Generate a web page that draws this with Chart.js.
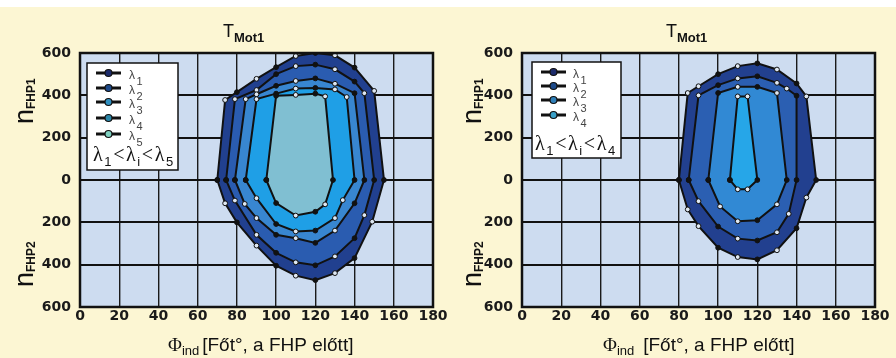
<!DOCTYPE html>
<html>
<head>
<meta charset="utf-8">
<title>T_Mot1</title>
<script src="https://cdn.jsdelivr.net/npm/chart.js@4.4.1/dist/chart.umd.min.js"></script>
<style>
    html, body { margin: 0; padding: 0; background: #fcf6d3; }
    #wrap { position: relative; width: 896px; height: 358px; background: #fcf6d3; overflow: hidden; }
    #topStrip { position: absolute; left: 0; top: 0; width: 896px; height: 7px; background: #ffffff; }
    canvas { position: absolute; top: 0; }
    #leftChart { left: 0; }
    #rightChart { left: 448px; }
</style>
</head>
<body>
<div id="wrap">
    <div id="topStrip"></div>
    <canvas id="leftChart" width="448" height="358"></canvas>
    <canvas id="rightChart" width="448" height="358"></canvas>
</div>
<script>
// ====================================
// T_Mot1 - working areas per lambda
// ====================================

// ---- Axis ticks ----
const phiTicks = [0, 20, 40, 60, 80, 100, 120, 140, 160, 180];
const nTicks = [-600, -400, -200, 0, 200, 400, 600];   // below 0 = n_FHP2

// ---- Left panel contours [phi, n] ----
const leftLambda1 = [[70, 0], [74, 378], [80, 415], [90, 478], [100, 533], [110, 586], [120, 600], [130, 589], [140, 531], [150, 421], [155, 0],
    [149, -197], [140, -369], [130, -440], [120, -473], [110, -452], [100, -405], [90, -310], [80, -200], [74, -110], [70, 0]];
const leftLambda2 = [[74.5, 0], [79, 382], [90, 425], [100, 500], [110, 538], [120, 545], [130, 523], [140, 465], [145, 410], [150, 0],
    [145, -166], [140, -275], [130, -361], [120, -403], [110, -389], [100, -344], [90, -259], [79, -97], [74.5, 0]];
const leftLambda3 = [[79, 0], [84.5, 382], [90, 405], [100, 445], [110, 468], [120, 480], [130, 455], [140, 410], [145, 0],
    [140, -110], [130, -239], [120, -297], [110, -275], [100, -259], [90, -180], [84, -113], [79, 0]];
const leftLambda4 = [[84.5, 0], [90, 382], [100, 408], [110, 432], [120, 435], [130, 428], [136, 392], [140, 0],
    [134, -95], [130, -180], [120, -239], [110, -243], [100, -208], [90, -86], [84.5, 0]];
const leftLambda5 = [[95, 0], [100, 398], [110, 402], [120, 408], [125, 395], [129, 0],
    [125, -115], [120, -150], [110, -168], [100, -109], [95, 0]];

// ---- Right panel contours [phi, n] ----
const rightLambda1 = [[80, 0], [84.5, 411], [90, 443], [100, 500], [110, 538], [120, 551], [130, 522], [140, 456], [145, 395], [150, 0],
    [145, -83], [140, -228], [130, -332], [120, -375], [110, -364], [100, -320], [90, -218], [84.5, -139], [80, 0]];
const rightLambda2 = [[85, 0], [90, 400], [100, 448], [110, 480], [120, 490], [130, 459], [135, 432], [140, 398], [140, 0],
    [136, -160], [130, -247], [120, -286], [110, -277], [100, -220], [90, -100], [85, 0]];
const rightLambda3 = [[95, 0], [100, 411], [110, 440], [120, 440], [130, 411], [135, 0],
    [130, -115], [120, -190], [110, -195], [101, -125], [95, 0]];
const rightLambda4 = [[106, 0], [110, 395], [115, 395], [120, 0], [115, -44], [110, -44], [106, 0]];

// ---- Colours ----
const leftFills = ['#21408f', '#2a5cb0', '#3886d0', '#1f9fe6', '#80bfd2'];
const rightFills = ['#22408f', '#2b5fb2', '#3189d4', '#26a6e8'];
const leftMarkers = ['#1c2b6b', '#1d4a8a', '#2f8fc0', '#2a86a8', '#7fd0c0'];
const rightMarkers = ['#1c2b6b', '#1d4a8a', '#2f7fb8', '#3aa0c8'];

const FONT_SANS = '"Liberation Sans", Arial, sans-serif';
const FONT_SERIF = '"Liberation Serif", "Times New Roman", serif';
const FONT_TICK = '"DejaVu Sans", sans-serif';
const PLOT_BG = '#cddcf0';
const INK = '#111111';

// ---- Text with subscript ----
function drawSub(ctx, x, y, main, sub, mainFont, subFont, subDy) {
    ctx.font = mainFont;
    ctx.fillText(main, x, y);
    const w = ctx.measureText(main).width;
    ctx.font = subFont;
    ctx.fillText(sub, x + w, y + subDy);
    return x + w + ctx.measureText(sub).width;
}

// ---- Marker fill: dots at 20-degree steps and on the zero line, rings between ----
function markerFill(raw) {
    if (!raw) return INK;
    return (raw.y === 0 || raw.x % 20 === 0) ? INK : '#dfe8f2';
}

// ---- Panel decoration plugin ----
const panelDecor = {
    id: 'panelDecor',
    beforeDraw(chart) {
        const { ctx, chartArea: a } = chart;
        ctx.save();
        ctx.fillStyle = PLOT_BG;
        ctx.fillRect(a.left, a.top, a.right - a.left, a.bottom - a.top);
        ctx.restore();
    },
    afterDraw(chart, args, o) {
        const { ctx, chartArea: a } = chart;
        ctx.save();

        // frame
        ctx.strokeStyle = INK;
        ctx.lineWidth = 2.5;
        ctx.strokeRect(a.left, a.top, a.right - a.left, a.bottom - a.top);

        // title
        ctx.fillStyle = '#111';
        ctx.textAlign = 'left';
        ctx.textBaseline = 'alphabetic';
        drawSub(ctx, o.titleX, 37, 'T', 'Mot1', '18px ' + FONT_SANS, 'bold 13px ' + FONT_SANS, 5);

        // y axis titles (rotated)
        [[124, 'FHP1'], [287, 'FHP2']].forEach(([y, sub]) => {
            ctx.save();
            ctx.translate(33, y);
            ctx.rotate(-Math.PI / 2);
            drawSub(ctx, 0, 0, 'n', sub, '27px ' + FONT_SANS, 'bold 12px ' + FONT_SANS, 2);
            ctx.restore();
        });

        // x axis title
        ctx.font = '19px ' + FONT_SERIF;
        ctx.fillText('\u03A6', o.phiX, 351);
        let x = o.phiX + ctx.measureText('\u03A6').width;
        ctx.font = '13px ' + FONT_SANS;
        ctx.fillText('ind', x, 355);
        x += ctx.measureText('ind').width + o.phiGap;
        ctx.font = '19px ' + FONT_SANS;
        ctx.fillText('[F\u0151t\u00B0, a FHP el\u0151tt]', x, 351);

        // legend box
        const b = o.legendBox;
        ctx.fillStyle = '#ffffff';
        ctx.fillRect(b.x, b.y, b.w, b.h);
        ctx.strokeStyle = INK;
        ctx.lineWidth = 1.5;
        ctx.strokeRect(b.x, b.y, b.w, b.h);

        chart.data.datasets.forEach((ds, i) => {
            const y = o.legendRows[i];
            ctx.strokeStyle = INK;
            ctx.lineWidth = 3;
            ctx.beginPath();
            ctx.moveTo(o.lineX0, y);
            ctx.lineTo(o.lineX1, y);
            ctx.stroke();
            ctx.beginPath();
            ctx.arc((o.lineX0 + o.lineX1) / 2, y, 3.5, 0, Math.PI * 2);
            ctx.fillStyle = o.markerColors[i];
            ctx.fill();
            ctx.lineWidth = 1.2;
            ctx.stroke();
            ctx.fillStyle = '#444';
            ctx.font = '12px ' + FONT_SANS;
            ctx.fillText('\u03BB', o.labelX, y + 5.5);
            ctx.font = '11px ' + FONT_SANS;
            ctx.fillText(String(i + 1), o.labelX + 7.5, y + 12);
        });

        // lambda_1 < lambda_i < lambda_n
        const parts = [
            ['\u03BB', false], ['1', true], ['<', false], ['\u03BB', false],
            ['i', true], ['<', false], ['\u03BB', false], [String(chart.data.datasets.length), true]
        ];
        ctx.fillStyle = '#111';
        let sx = o.summaryX;
        parts.forEach(([t, isSub]) => {
            ctx.font = isSub ? '13px ' + FONT_SANS : '20px ' + FONT_SERIF;
            ctx.fillText(t, sx, o.summaryY + (isSub ? 5 : 0));
            sx += ctx.measureText(t).width + 1.6;
        });

        ctx.restore();
    }
};

// ---- Build one panel ----
function buildPanel(canvasId, contours, fills, axisWidth, rightPad, decor) {
    const datasets = contours.map((pts, i) => ({
        label: '\u03BB' + (i + 1),
        data: pts.map(p => ({ x: p[0], y: p[1] })),
        fill: 'shape',
        backgroundColor: fills[i],
        borderColor: INK,
        borderWidth: 2,
        pointRadius: 2.4,
        pointBorderWidth: 1,
        pointBorderColor: INK,
        pointBackgroundColor: ctx => markerFill(ctx.raw),
        order: contours.length - i,
        tension: 0
    }));

    const tickFont = { family: FONT_TICK, weight: 'bold', size: 14 };

    return new Chart(document.getElementById(canvasId), {
        type: 'line',
        data: { datasets },
        options: {
            responsive: false,
            animation: false,
            devicePixelRatio: 1,
            layout: { padding: { top: 53, right: rightPad, left: 0, bottom: 0 } },
            plugins: {
                legend: { display: false },
                tooltip: { enabled: false },
                panelDecor: decor
            },
            scales: {
                x: {
                    type: 'linear',
                    min: 0,
                    max: 180,
                    z: 1,
                    afterBuildTicks: s => { s.ticks = phiTicks.map(v => ({ value: v })); },
                    afterFit: s => { s.height = 51; s.paddingLeft = 0; s.paddingRight = 0; },
                    grid: { color: '#1a1a1a', lineWidth: 1.4, drawTicks: false },
                    border: { display: false },
                    ticks: { font: tickFont, color: '#1a1a1a', padding: 1, maxRotation: 0, autoSkip: false }
                },
                y: {
                    type: 'linear',
                    min: -600,
                    max: 600,
                    z: 1,
                    afterBuildTicks: s => { s.ticks = nTicks.map(v => ({ value: v })); },
                    afterFit: s => { s.width = axisWidth; s.paddingTop = 0; s.paddingBottom = 0; },
                    grid: { color: '#111', lineWidth: 2, drawTicks: false },
                    border: { display: false },
                    ticks: {
                        font: tickFont,
                        color: '#1a1a1a',
                        padding: 9,
                        autoSkip: false,
                        callback: v => String(Math.abs(v))
                    }
                }
            }
        },
        plugins: [panelDecor]
    });
}

// ---- Initialize ----
buildPanel('leftChart',
    [leftLambda1, leftLambda2, leftLambda3, leftLambda4, leftLambda5],
    leftFills, 80, 15,
    {
        titleX: 223, phiX: 168, phiGap: 3,
        legendBox: { x: 87, y: 63, w: 91, h: 107 },
        legendRows: [73, 88, 102, 118, 134],
        lineX0: 96, lineX1: 121, labelX: 129,
        markerColors: leftMarkers,
        summaryX: 93, summaryY: 161
    });

buildPanel('rightChart',
    [rightLambda1, rightLambda2, rightLambda3, rightLambda4],
    rightFills, 74, 21,
    {
        titleX: 218, phiX: 155, phiGap: 9,
        legendBox: { x: 84, y: 62, w: 89, h: 96 },
        legendRows: [72, 86, 100, 115],
        lineX0: 93, lineX1: 118, labelX: 125,
        markerColors: rightMarkers,
        summaryX: 87, summaryY: 150
    });
</script>
</body>
</html>
